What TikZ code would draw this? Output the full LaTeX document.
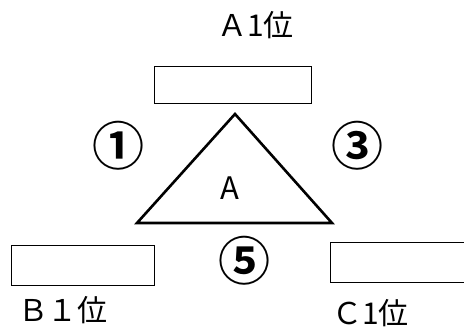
\documentclass[tikz,border=0pt]{standalone}
\usepackage{fontspec}
\newfontfamily\jpfont{Noto Sans CJK JP}
\newfontfamily\jpbold{Noto Sans CJK JP Bold}
\usepackage{tikz}
\usetikzlibrary{positioning}

\begin{document}
\begin{tikzpicture}[
    x=1pt, y=-1pt, % pixel grid, y grows downwards
    rankbox/.style={
        draw,
        line width=0.9pt,
        inner sep=0pt
    },
    rank/.style={font=\jpfont\fontsize{30}{30}\selectfont, inner sep=0pt, anchor=base},
    num/.style={font=\jpbold\fontsize{52}{52}\selectfont, inner sep=0pt},
    tri/.style={line width=2.6pt, line join=miter}
]
\useasboundingbox (0,0) rectangle (464,334);

% Rank boxes
\node[rankbox, minimum width=157pt, minimum height=37pt] (boxA) at (232.5,84.5) {};
\node[rankbox, minimum width=143pt, minimum height=40pt] (boxB) at (82.5,265) {};
\node[rankbox, minimum width=143pt, minimum height=40pt] (boxC) at (401.5,262) {};

% Rank labels
\node[rank] (labA) at (255.5,37) {Ａ1位};
\node[rank] (labB) at (63,322) {Ｂ１位};
\node[rank] (labC) at (370.5,325) {Ｃ1位};

% Triangle
\coordinate (top) at (235,114);
\coordinate (left) at (137,223);
\coordinate (right) at (332,223);
\draw[tri] (top) -- (left) -- (right) -- cycle;
\node[font=\jpfont\fontsize{31}{31}\selectfont, inner sep=0pt, anchor=base] (mid) at (230,200) {A};

% Circled numbers
\node[num] (one) at (118,146) {①};
\node[num] (three) at (357,146) {③};
\node[num] (five) at (244,261) {⑤};

\end{tikzpicture}
\end{document}
